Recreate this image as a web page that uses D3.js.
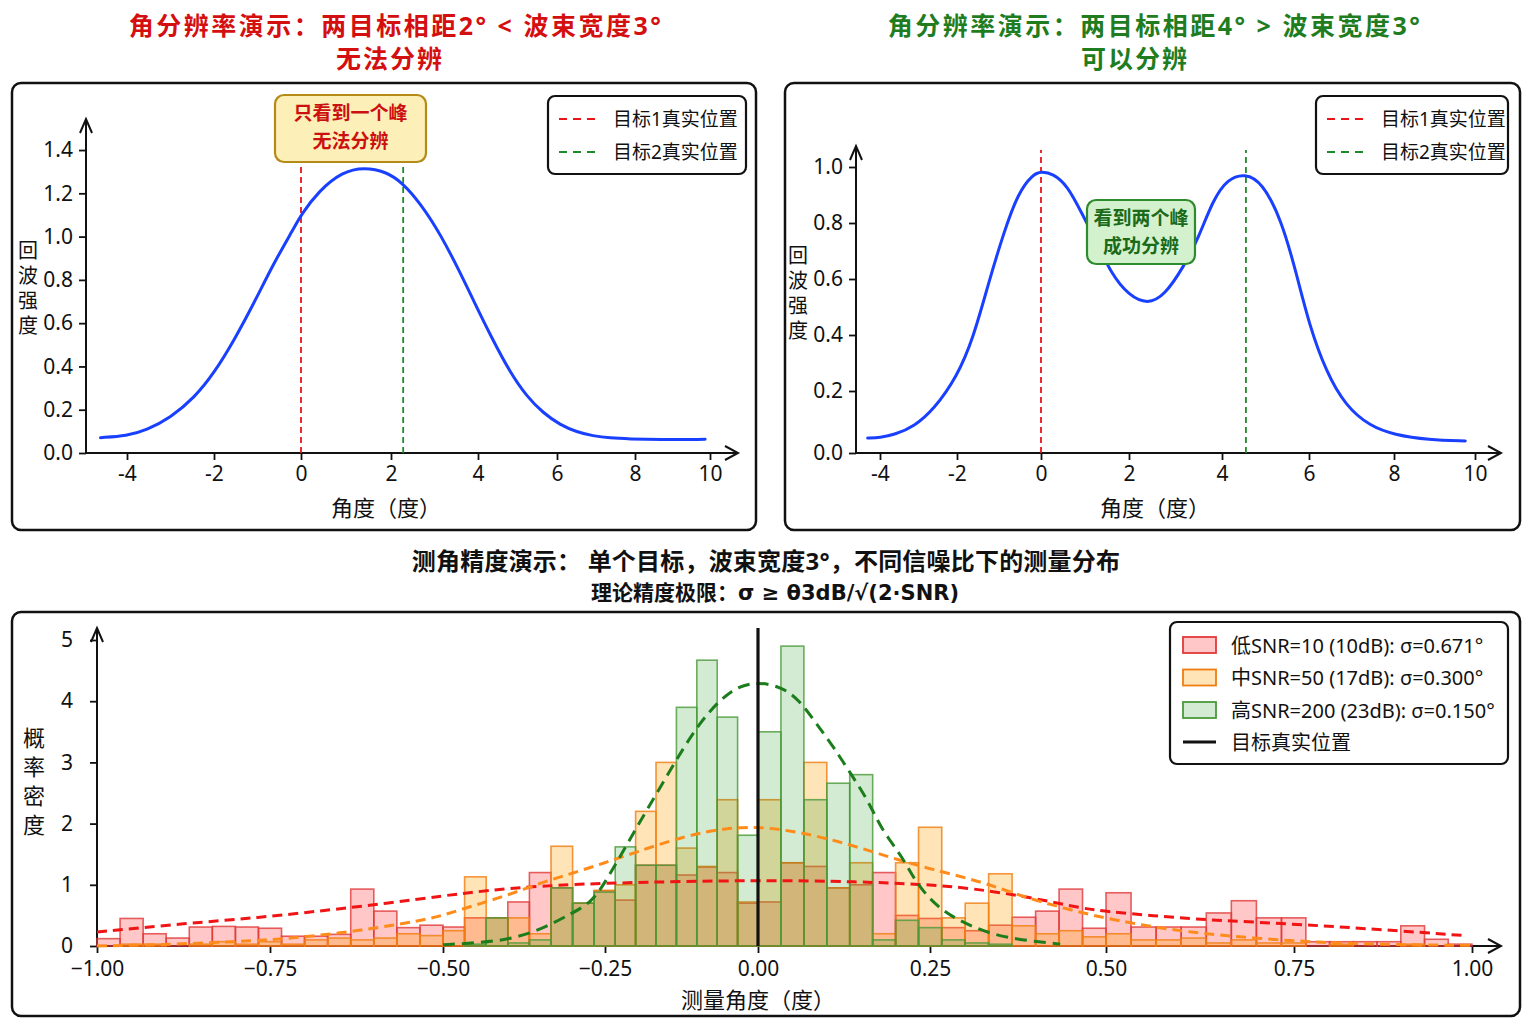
<!DOCTYPE html>
<html>
<head>
<meta charset="utf-8">
<script src="https://cdn.jsdelivr.net/npm/d3@7"></script>
<style>
  body { margin: 0; background: #fff; }
  text { font-family: "Noto Sans", "Noto Sans CJK SC", sans-serif; }
</style>
</head>
<body>
<svg id="chart" width="1536" height="1024"></svg>
<script>
// ---------- data ----------
const degTicks = [-4, -2, 0, 2, 4, 6, 8, 10];
const leftYTicks = [0, 0.2, 0.4, 0.6, 0.8, 1.0, 1.2, 1.4];
const rightYTicks = [0, 0.2, 0.4, 0.6, 0.8, 1.0];

// echo intensity vs angle
const leftEcho = [[-4.61,0.071],[-4.0,0.079],[-3.56,0.105],[-3.0,0.163],[-2.44,0.258],[-2.0,0.369],[-1.54,0.52],[-1.08,0.693],[-0.62,0.88],[-0.16,1.04],[0,1.10],[0.39,1.21],[0.92,1.30],[1.41,1.32],[1.89,1.30],[2.26,1.25],[2.69,1.15],[3.14,1.01],[3.6,0.83],[3.89,0.707],[4.38,0.52],[4.81,0.374],[5.24,0.26],[5.65,0.185],[6.08,0.13],[6.51,0.097],[6.92,0.079],[7.36,0.069],[7.85,0.065],[8.64,0.062],[9.87,0.063]];
const rightEcho = [[-4.32,0.048],[-4,0.05],[-3.62,0.059],[-3.11,0.086],[-2.6,0.141],[-2,0.251],[-1.61,0.39],[-1.25,0.585],[-0.9,0.76],[-0.54,0.91],[-0.19,0.974],[0,0.984],[0.27,0.977],[0.6,0.934],[0.93,0.834],[1.26,0.734],[1.59,0.62],[2.0,0.54],[2.4,0.51],[2.76,0.54],[3.18,0.645],[3.49,0.745],[3.81,0.884],[4.13,0.958],[4.53,0.977],[4.92,0.946],[5.37,0.81],[5.71,0.62],[6.0,0.439],[6.4,0.269],[6.86,0.152],[7.44,0.086],[8,0.059],[8.86,0.042],[9.76,0.039]];
const leftTargets = [0, 2.28];
const rightTargets = [0, 4.55];

// measurement histograms: 60 bins of width 1/30 from -1 to 1
const binEdges = d3.range(61).map(i => -1 + i / 30);
const lowSnr = [0.12,0.45,0.20,0.13,0.31,0.32,0.31,0.29,0.16,0.16,0.19,0.93,0.57,0.30,0.34,0.31,0.46,0.46,0.72,1.20,0.95,0.70,0.90,0.75,1.32,1.32,1.16,1.29,1.20,0.70,0.72,1.36,1.30,0.95,1.00,1.20,0.50,0.45,0.30,0.25,0.34,0.47,0.57,0.93,0.29,0.87,0.31,0.31,0.31,0.54,0.74,0.46,0.46,0.07,0.07,0.07,0.07,0.33,0.11,0.03];
const midSnr = [0,0.03,0.03,0,0.03,0.07,0.03,0.07,0.03,0.10,0.13,0.10,0.13,0.20,0.17,0.25,1.13,0.46,0.46,0.20,1.63,0.70,0.91,1.00,2.20,3.00,1.60,1.30,2.39,0.72,2.39,1.36,3.00,0.95,1.36,0.20,1.36,1.94,0.46,0.70,1.18,0.33,0.20,0.25,0.15,0.20,0.10,0.10,0.13,0.05,0.10,0.05,0.05,0,0.03,0,0,0.03,0,0];
const highSnr = [0,0,0,0,0,0,0,0,0,0,0,0,0,0,0,0,0.03,0.46,0.05,0.10,0.95,0.70,0.88,1.62,1.32,1.32,3.90,4.67,3.74,1.81,3.50,4.90,2.39,2.66,2.80,0.10,0.42,0.30,0.10,0.05,0.03,0,0,0,0,0,0,0,0,0,0,0,0,0,0,0,0,0,0,0];

// fitted density curves
const lowFit = [[-1,0.23],[-0.87,0.37],[-0.77,0.46],[-0.67,0.58],[-0.58,0.70],[-0.5,0.82],[-0.43,0.91],[-0.35,0.98],[-0.25,1.03],[0,1.08],[0.15,1.05],[0.235,1.01],[0.308,0.95],[0.4,0.78],[0.463,0.62],[0.503,0.56],[0.56,0.5],[0.615,0.44],[0.7,0.39],[0.79,0.33],[0.87,0.27],[0.99,0.17]];
const midFit = [[-1,0.0],[-0.91,0.02],[-0.8,0.07],[-0.72,0.12],[-0.62,0.25],[-0.53,0.42],[-0.5,0.5],[-0.45,0.67],[-0.4,0.83],[-0.35,1.03],[-0.3,1.19],[-0.25,1.36],[-0.2,1.53],[-0.12,1.8],[-0.05,1.93],[0,1.95],[0.05,1.88],[0.1,1.76],[0.15,1.6],[0.2,1.42],[0.25,1.26],[0.33,1.03],[0.37,0.85],[0.435,0.63],[0.5,0.45],[0.55,0.34],[0.6,0.24],[0.7,0.12],[0.8,0.05],[0.9,0.02],[1.0,0.01]];
const highFit = [[-0.5,0.02],[-0.45,0.05],[-0.4,0.1],[-0.35,0.26],[-0.3,0.54],[-0.27,0.72],[-0.247,1.08],[-0.204,1.84],[-0.15,2.76],[-0.095,3.69],[-0.041,4.23],[0,4.32],[0.035,4.23],[0.06,4.02],[0.085,3.63],[0.11,3.25],[0.135,2.81],[0.16,2.38],[0.18,1.89],[0.21,1.46],[0.23,1.02],[0.26,0.64],[0.29,0.42],[0.33,0.22],[0.37,0.11],[0.435,0.03]];

const errTicks = [-1, -0.75, -0.5, -0.25, 0, 0.25, 0.5, 0.75, 1];
const densTicks = [0, 1, 2, 3, 4, 5];
const snrLabels = ['低SNR=10 (10dB): σ=0.671°', '中SNR=50 (17dB): σ=0.300°', '高SNR=200 (23dB): σ=0.150°'];
const targetLabels = ['目标1真实位置', '目标2真实位置'];

// ---------- drawing ----------
const svg = d3.select('#chart');
const INK = '#111';
const MATH_FONT = '"DejaVu Sans", "Noto Sans CJK SC", sans-serif';

const addText = (g, x, y, str, o = {}) => g.append('text')
  .attr('x', x).attr('y', y)
  .attr('text-anchor', o.anchor || 'middle')
  .attr('dominant-baseline', 'central')
  .attr('font-size', o.size || 20)
  .attr('font-weight', o.weight || 'normal')
  .attr('letter-spacing', o.spacing || 0)
  .attr('fill', o.color || INK)
  .text(str);

const frame = (x0, y0, x1, y1, r = 9) => svg.append('rect')
  .attr('x', x0).attr('y', y0).attr('width', x1 - x0).attr('height', y1 - y0)
  .attr('rx', r).attr('fill', 'none').attr('stroke', INK).attr('stroke-width', 2.5);

const arrowAxes = (g, ox, oy, xEnd, yTop) => {
  const p = d => g.append('path').attr('d', d)
    .attr('stroke', INK).attr('stroke-width', 2).attr('fill', 'none');
  p(`M${ox},${oy}H${xEnd}`);
  p(`M${xEnd - 13},${oy - 7}L${xEnd},${oy}L${xEnd - 13},${oy + 7}`);
  p(`M${ox},${oy}V${yTop}`);
  p(`M${ox - 6},${yTop + 14}L${ox},${yTop}L${ox + 6},${yTop + 14}`);
};

const styleAxis = sel => {
  sel.select('.domain').remove();
  sel.attr('font-family', null).attr('font-size', 21);
  sel.selectAll('line').attr('stroke', INK).attr('stroke-width', 1.8);
  sel.selectAll('text').attr('fill', INK);
};

// stacked vertical label (one text element, upright CJK)
const vertLabel = (g, x, yTop, step, str, size) => g.append('text')
  .attr('x', x).attr('y', yTop)
  .attr('font-size', size)
  .attr('fill', INK)
  .style('writing-mode', 'vertical-rl')
  .style('letter-spacing', `${step - size}px`)
  .attr('dominant-baseline', 'central')
  .text(str);

const smooth = d3.curveBasis;

const resolutionPanel = cfg => {
  const g = svg.append('g');
  const x = d3.scaleLinear().domain(degTicks).range(cfg.xPx);
  const y = d3.scaleLinear().domain(cfg.yTicks).range(cfg.yPx);

  addText(g, cfg.titleX, 25, cfg.title, { size: 25, color: cfg.color, weight: 'bold', spacing: 2.5 });
  addText(g, cfg.subX, 58, cfg.sub, { size: 25, color: cfg.color, weight: 'bold', spacing: 2 });
  frame(cfg.box[0], cfg.box[1], cfg.box[2], cfg.box[3]);

  arrowAxes(g, cfg.ox, y(0), cfg.xEnd, cfg.yTop);
  g.append('g').attr('transform', `translate(0,${y(0)})`)
    .call(d3.axisBottom(x).tickValues(degTicks).tickSize(7).tickPadding(6).tickFormat(d => String(d)))
    .call(styleAxis);
  g.append('g').attr('transform', `translate(${cfg.ox},0)`)
    .call(d3.axisLeft(y).tickValues(cfg.yTicks).tickSize(7).tickPadding(6).tickFormat(d3.format('.1f')))
    .call(styleAxis);

  addText(g, cfg.xLabelX, 507, '角度（度）', { size: 22 });
  vertLabel(g, cfg.yLabelX, cfg.yLabelY, 25, '回波强度', 20);

  // true target positions
  const tColors = ['#e8141a', '#1e8a2a'];
  cfg.targets.forEach((t, i) => g.append('line')
    .attr('x1', x(t)).attr('x2', x(t)).attr('y1', y(0)).attr('y2', cfg.yTop + 4)
    .attr('stroke', tColors[i]).attr('stroke-width', 1.8).attr('stroke-dasharray', '6,4'));

  g.append('path').datum(cfg.echo)
    .attr('d', d3.line().x(d => x(d[0])).y(d => y(d[1])).curve(smooth))
    .attr('fill', 'none').attr('stroke', '#1a40ff').attr('stroke-width', 3)
    .attr('stroke-linecap', 'round');

  // annotation box
  const n = cfg.note;
  g.append('rect').attr('x', n.x).attr('y', n.y).attr('width', n.w).attr('height', n.h).attr('rx', 9)
    .attr('fill', n.fill).attr('stroke', n.stroke).attr('stroke-width', 2.2);
  n.lines.forEach((s, i) => addText(g, n.x + n.w / 2, n.y + 18 + i * 28, s, { size: 19, color: n.color, weight: 'bold' }));

  // legend
  const L = cfg.legend;
  g.append('rect').attr('x', L.x).attr('y', L.y).attr('width', L.w).attr('height', 78).attr('rx', 7)
    .attr('fill', '#fff').attr('stroke', INK).attr('stroke-width', 2.2);
  targetLabels.forEach((s, i) => {
    const yy = L.y + 23 + i * 33;
    g.append('line').attr('x1', L.x + 11).attr('x2', L.x + 52).attr('y1', yy).attr('y2', yy)
      .attr('stroke', tColors[i]).attr('stroke-width', 2).attr('stroke-dasharray', '8,6');
    addText(g, L.x + 65, yy, s, { size: 19, anchor: 'start' });
  });
};

resolutionPanel({
  title: '角分辨率演示：两目标相距2° < 波束宽度3°', titleX: 396, sub: '无法分辨', subX: 390, color: '#d40f0f',
  box: [12, 83, 756, 530], xPx: [127, 214, 301, 391, 478, 557, 635, 710],
  yTicks: leftYTicks, yPx: leftYTicks.map(v => 453 - v * 216.4),
  ox: 86, xEnd: 738, yTop: 119, xLabelX: 386, yLabelX: 27, yLabelY: 240,
  echo: leftEcho, targets: leftTargets,
  note: { x: 275, y: 95, w: 151, h: 67, fill: '#fcefb8', stroke: '#b58a16', color: '#cc1010', lines: ['只看到一个峰', '无法分辨'] },
  legend: { x: 548, y: 96, w: 198 }
});

resolutionPanel({
  title: '角分辨率演示：两目标相距4° > 波束宽度3°', titleX: 1155, sub: '可以分辨', subX: 1135, color: '#1f7d1f',
  box: [785, 83, 1520, 530], xPx: [880, 957, 1041, 1129, 1222, 1309, 1394, 1475],
  yTicks: rightYTicks, yPx: [453, 391, 335, 279, 223, 167],
  ox: 856, xEnd: 1501, yTop: 146, xLabelX: 1155, yLabelX: 797, yLabelY: 245,
  echo: rightEcho, targets: rightTargets,
  note: { x: 1087, y: 200, w: 108, h: 64, fill: '#d3f1cd', stroke: '#2e8b2e', color: '#1a6a1a', lines: ['看到两个峰', '成功分辨'] },
  legend: { x: 1316, y: 96, w: 192 }
});

// ---------- accuracy panel ----------
const gb = svg.append('g');
addText(gb, 766, 560, '测角精度演示： 单个目标，波束宽度3°，不同信噪比下的测量分布', { size: 24, weight: 'bold', spacing: 0.2 });
addText(gb, 775, 593, '理论精度极限：σ ≥ θ3dB/√(2·SNR)', { size: 21, weight: 'bold' })
  .style('font-family', MATH_FONT);
frame(12, 612, 1520, 1016);

const xs = d3.scaleLinear().domain(errTicks).range([97, 270, 443, 605, 758, 930, 1106, 1294, 1472]);
const ys = d3.scaleLinear().domain([0, 5]).range([946, 640]);

arrowAxes(gb, 97, ys(0), 1501, 628);
gb.append('g').attr('transform', `translate(0,${ys(0)})`)
  .call(d3.axisBottom(xs).tickValues(errTicks).tickSize(7).tickPadding(8).tickFormat(d3.format('.2f')))
  .call(styleAxis);
gb.append('g').attr('transform', 'translate(97,0)')
  .call(d3.axisLeft(ys).tickValues(densTicks).tickSize(7).tickPadding(17).tickFormat(d3.format('d')))
  .call(styleAxis);
addText(gb, 758, 999, '测量角度（度）', { size: 22 });
vertLabel(gb, 33, 727, 29, '概率密度', 22);

const series = [
  { vals: lowSnr, fill: '#ff2020', op: 0.25, edge: '#e03a3a', fit: lowFit, line: '#f01414', dash: '10,6' },
  { vals: midSnr, fill: '#ff9f00', op: 0.28, edge: '#f07d10', fit: midFit, line: '#ff8c1a', dash: '10,6' },
  { vals: highSnr, fill: '#2ca02c', op: 0.21, edge: '#4a9a3a', fit: highFit, line: '#1b7d1b', dash: '12,7' }
];

series.forEach(s => {
  gb.append('g').selectAll('rect')
    .data(s.vals.map((v, i) => ({ v, x0: binEdges[i], x1: binEdges[i + 1] })).filter(d => d.v > 0))
    .join('rect')
    .attr('x', d => xs(d.x0)).attr('width', d => xs(d.x1) - xs(d.x0))
    .attr('y', d => ys(d.v)).attr('height', d => ys(0) - ys(d.v))
    .attr('fill', s.fill).attr('fill-opacity', s.op)
    .attr('stroke', s.edge).attr('stroke-opacity', 0.8).attr('stroke-width', 1.6);
});

series.forEach(s => gb.append('path').datum(s.fit)
  .attr('d', d3.line().x(d => xs(d[0])).y(d => ys(d[1])).curve(smooth))
  .attr('fill', 'none').attr('stroke', s.line).attr('stroke-width', 3).attr('stroke-dasharray', s.dash));

gb.append('line').attr('x1', xs(0)).attr('x2', xs(0)).attr('y1', 628).attr('y2', ys(0))
  .attr('stroke', INK).attr('stroke-width', 3.2);

// legend
gb.append('rect').attr('x', 1170).attr('y', 622).attr('width', 338).attr('height', 142).attr('rx', 7)
  .attr('fill', '#fff').attr('stroke', INK).attr('stroke-width', 2.2);
series.forEach((s, i) => {
  const yy = 645 + i * 32.5;
  gb.append('rect').attr('x', 1183).attr('y', yy - 8).attr('width', 33).attr('height', 16)
    .attr('fill', s.fill).attr('fill-opacity', s.op).attr('stroke', s.edge).attr('stroke-width', 1.8);
  addText(gb, 1231, yy, snrLabels[i], { size: 20, anchor: 'start' });
});
gb.append('line').attr('x1', 1183).attr('x2', 1216).attr('y1', 742).attr('y2', 742)
  .attr('stroke', INK).attr('stroke-width', 3.2);
addText(gb, 1231, 742, '目标真实位置', { size: 20, anchor: 'start' });
</script>
</body>
</html>
